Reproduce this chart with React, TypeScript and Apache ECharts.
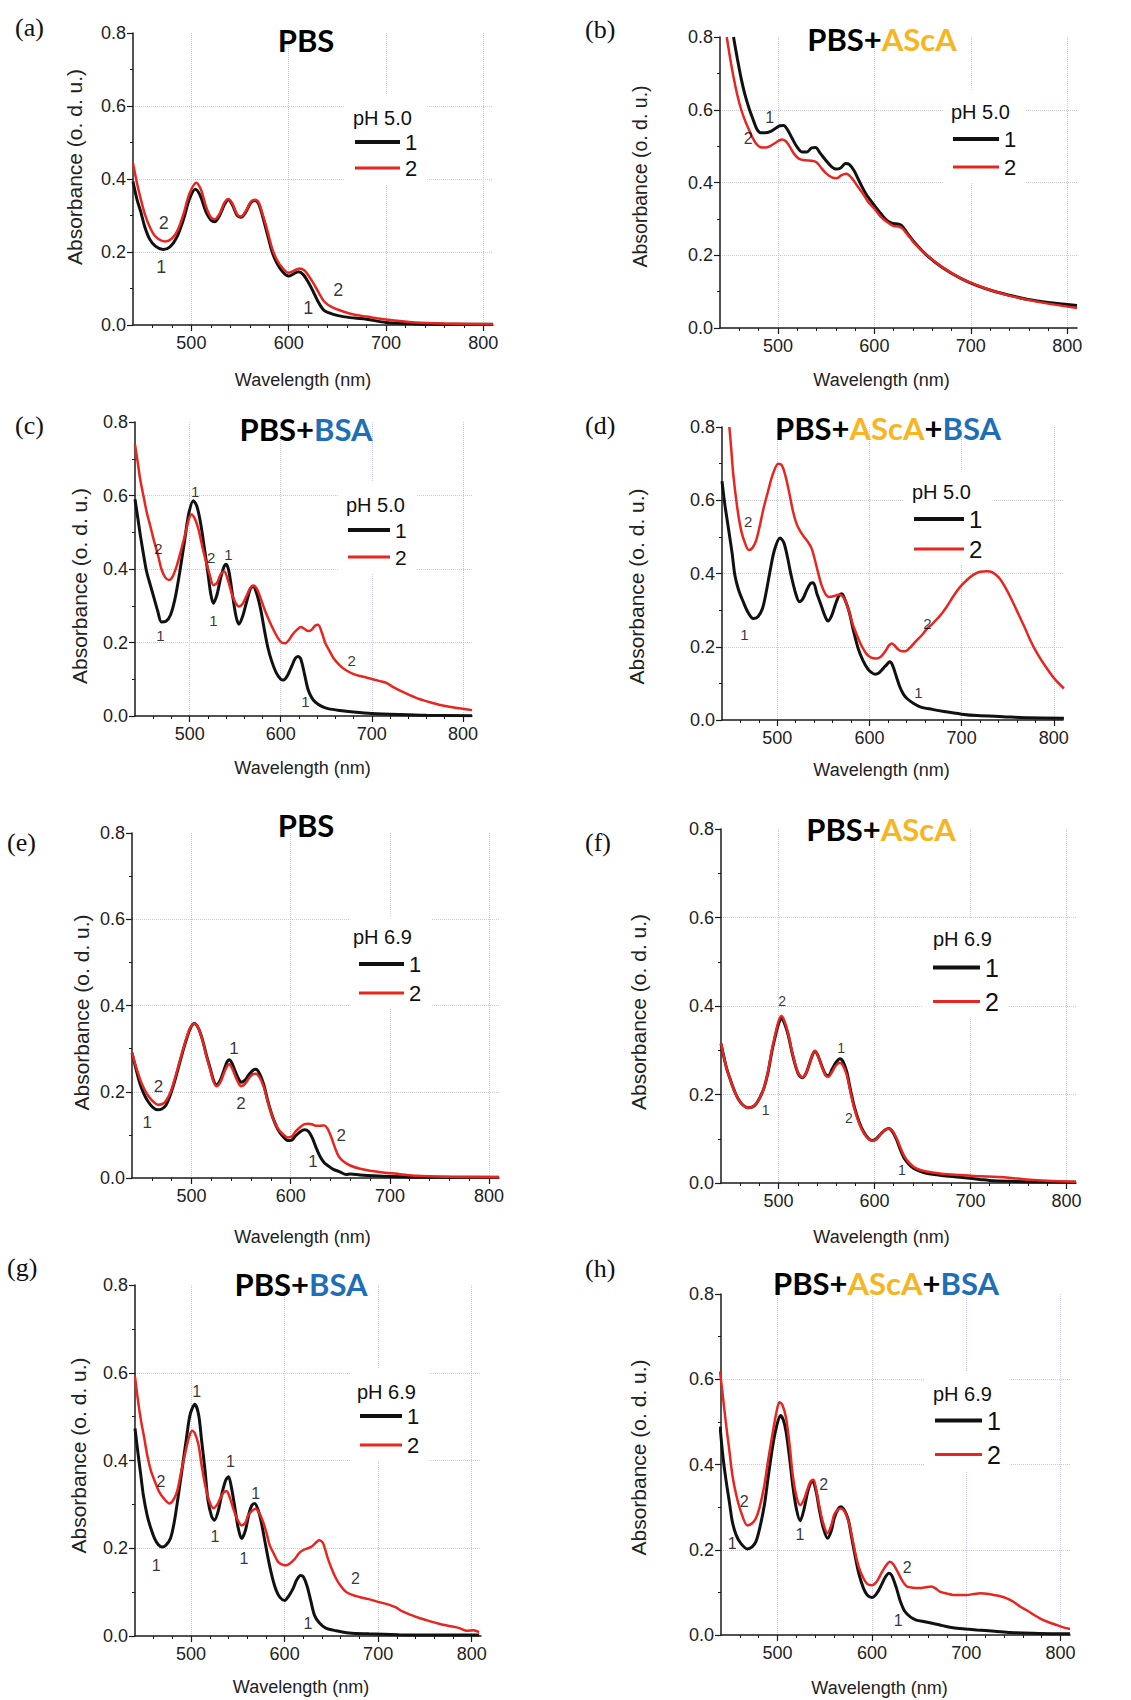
import { useEffect, useRef } from 'react';
import * as echarts from 'echarts';

// ---------- tick values ----------
const wavelengthTicks = [500, 600, 700, 800];
const seriesNames = ['1', '2'];
const panelLetters = ['(a)', '(b)', '(c)', '(d)', '(e)', '(f)', '(g)', '(h)'];
const phLabels = ['pH 5.0', 'pH 5.0', 'pH 5.0', 'pH 5.0', 'pH 6.9', 'pH 6.9', 'pH 6.9', 'pH 6.9'];
const titleParts = [
  [['PBS', 'k']],
  [['PBS+', 'k'], ['AScA', 'o']],
  [['PBS+', 'k'], ['BSA', 'b']],
  [['PBS+', 'k'], ['AScA', 'o'], ['+', 'k'], ['BSA', 'b']],
  [['PBS', 'k']],
  [['PBS+', 'k'], ['AScA', 'o']],
  [['PBS+', 'k'], ['BSA', 'b']],
  [['PBS+', 'k'], ['AScA', 'o'], ['+', 'k'], ['BSA', 'b']],
];

// ---------- spectra: [wavelength nm, absorbance] ----------
const a1 = [[440,0.393],[444,0.345],[448,0.31],[452,0.27],[457,0.236],[463,0.216],[471,0.207],[478,0.214],[485,0.24],[492,0.29],[498,0.345],[504,0.372],[509,0.355],[515,0.31],[520,0.288],[524,0.283],[529,0.3],[534,0.33],[538,0.343],[542,0.33],[547,0.3],[551,0.295],[556,0.31],[561,0.335],[565,0.341],[569,0.333],[573,0.3],[578,0.25],[583,0.2],[588,0.169],[594,0.145],[600,0.134],[605,0.14],[610,0.146],[615,0.138],[620,0.118],[625,0.093],[630,0.065],[636,0.041],[645,0.03],[656,0.023],[668,0.019],[680,0.016],[700,0.007],[730,0.003],[760,0.002],[810,0.002]];
const a2 = [[440,0.443],[444,0.39],[448,0.345],[452,0.305],[457,0.27],[463,0.243],[473,0.229],[480,0.237],[486,0.26],[492,0.305],[498,0.36],[505,0.39],[510,0.37],[515,0.325],[520,0.295],[524,0.29],[529,0.305],[534,0.335],[538,0.345],[542,0.333],[547,0.303],[551,0.297],[556,0.312],[561,0.337],[565,0.343],[569,0.336],[573,0.305],[578,0.26],[583,0.21],[588,0.178],[594,0.155],[600,0.143],[605,0.148],[611,0.155],[616,0.15],[621,0.133],[626,0.112],[631,0.088],[637,0.063],[645,0.048],[656,0.037],[668,0.028],[680,0.023],[700,0.015],[730,0.007],[760,0.004],[810,0.002]];
const b1 = [[454,0.8],[458,0.74],[462,0.685],[466,0.64],[470,0.605],[474,0.575],[478,0.548],[482,0.537],[487,0.537],[492,0.54],[497,0.548],[502,0.556],[506,0.557],[510,0.545],[515,0.52],[520,0.497],[525,0.484],[530,0.484],[535,0.495],[539,0.496],[544,0.48],[550,0.46],[555,0.445],[560,0.437],[565,0.44],[570,0.452],[574,0.45],[579,0.432],[585,0.4],[591,0.37],[598,0.344],[605,0.32],[612,0.298],[618,0.288],[624,0.286],[628,0.282],[633,0.265],[641,0.237],[655,0.198],[670,0.167],[689,0.137],[705,0.118],[724,0.101],[740,0.09],[758,0.079],[780,0.07],[810,0.062]];
const b2 = [[447,0.8],[450,0.75],[454,0.69],[458,0.64],[462,0.6],[466,0.57],[470,0.545],[474,0.522],[478,0.505],[482,0.497],[487,0.496],[492,0.5],[498,0.51],[504,0.518],[508,0.514],[512,0.5],[517,0.478],[522,0.465],[528,0.461],[535,0.46],[540,0.456],[545,0.44],[550,0.425],[556,0.414],[561,0.412],[566,0.42],[571,0.424],[576,0.414],[582,0.392],[588,0.37],[594,0.345],[600,0.328],[607,0.305],[614,0.29],[620,0.28],[625,0.279],[629,0.274],[634,0.258],[641,0.235],[655,0.199],[670,0.168],[689,0.137],[705,0.119],[724,0.101],[740,0.089],[758,0.078],[780,0.067],[810,0.055]];
const c1 = [[440,0.59],[443,0.54],[446,0.49],[450,0.43],[453,0.39],[457,0.355],[461,0.32],[465,0.285],[469,0.256],[474,0.258],[479,0.275],[484,0.32],[489,0.39],[494,0.47],[499,0.55],[504,0.586],[508,0.57],[512,0.525],[516,0.46],[520,0.39],[523,0.335],[526,0.307],[530,0.33],[534,0.375],[538,0.408],[540,0.413],[543,0.395],[547,0.33],[551,0.27],[554,0.25],[558,0.27],[563,0.315],[567,0.348],[570,0.352],[574,0.33],[578,0.29],[582,0.235],[586,0.185],[590,0.15],[595,0.118],[600,0.1],[603,0.098],[607,0.108],[612,0.135],[616,0.157],[619,0.162],[622,0.155],[626,0.115],[630,0.072],[634,0.05],[638,0.038],[645,0.026],[652,0.02],[665,0.015],[680,0.011],[700,0.007],[730,0.004],[760,0.002],[810,0.001]];
const c2 = [[440,0.738],[443,0.69],[446,0.64],[450,0.59],[453,0.553],[457,0.515],[461,0.475],[465,0.44],[469,0.4],[473,0.378],[477,0.37],[481,0.378],[486,0.41],[491,0.455],[495,0.493],[499,0.535],[502,0.548],[506,0.535],[510,0.505],[514,0.46],[518,0.42],[522,0.385],[526,0.356],[530,0.362],[534,0.385],[538,0.393],[542,0.37],[546,0.335],[550,0.31],[554,0.298],[558,0.305],[563,0.33],[567,0.35],[570,0.355],[574,0.345],[578,0.32],[583,0.285],[588,0.256],[593,0.23],[597,0.212],[601,0.2],[605,0.198],[609,0.207],[613,0.222],[618,0.235],[622,0.242],[626,0.237],[630,0.231],[634,0.235],[638,0.246],[641,0.248],[645,0.228],[649,0.198],[654,0.175],[658,0.157],[664,0.14],[670,0.127],[680,0.114],[695,0.104],[709,0.095],[716,0.09],[724,0.078],[737,0.062],[750,0.048],[763,0.038],[775,0.03],[790,0.023],[810,0.016]];
const d1 = [[440,0.652],[443,0.59],[447,0.523],[451,0.455],[454,0.395],[458,0.355],[463,0.323],[468,0.295],[474,0.277],[479,0.282],[484,0.305],[488,0.35],[492,0.405],[497,0.465],[503,0.497],[507,0.485],[511,0.445],[515,0.395],[520,0.345],[524,0.323],[528,0.332],[532,0.355],[536,0.373],[539,0.375],[543,0.345],[548,0.31],[552,0.282],[555,0.27],[559,0.285],[563,0.315],[567,0.34],[570,0.345],[574,0.325],[578,0.295],[583,0.24],[588,0.193],[593,0.162],[598,0.14],[602,0.13],[606,0.125],[610,0.128],[615,0.141],[619,0.152],[622,0.159],[625,0.15],[629,0.12],[633,0.09],[637,0.07],[641,0.058],[648,0.045],[655,0.036],[668,0.029],[681,0.023],[700,0.016],[717,0.012],[745,0.009],[772,0.006],[811,0.005]];
const d2 = [[448,0.8],[450,0.74],[452,0.677],[455,0.61],[458,0.555],[461,0.515],[464,0.49],[469,0.464],[473,0.47],[477,0.49],[481,0.53],[485,0.577],[490,0.625],[495,0.67],[501,0.7],[505,0.695],[509,0.665],[513,0.62],[517,0.57],[521,0.535],[525,0.515],[529,0.5],[533,0.487],[537,0.47],[540,0.445],[544,0.405],[548,0.368],[552,0.345],[556,0.336],[561,0.338],[566,0.342],[570,0.34],[574,0.325],[578,0.295],[582,0.26],[587,0.228],[592,0.2],[597,0.18],[602,0.17],[607,0.168],[612,0.172],[617,0.187],[621,0.203],[624,0.209],[627,0.204],[631,0.193],[635,0.188],[639,0.188],[645,0.2],[651,0.217],[657,0.232],[662,0.248],[668,0.262],[677,0.286],[684,0.31],[691,0.338],[698,0.362],[706,0.383],[713,0.397],[720,0.405],[727,0.406],[733,0.404],[740,0.39],[746,0.368],[753,0.335],[760,0.298],[768,0.255],[775,0.215],[782,0.182],[790,0.15],[800,0.115],[811,0.086]];
const e1 = [[440,0.29],[444,0.253],[448,0.219],[452,0.195],[456,0.178],[461,0.164],[466,0.158],[470,0.16],[474,0.168],[479,0.195],[484,0.232],[489,0.275],[494,0.315],[499,0.348],[503,0.358],[507,0.347],[511,0.321],[515,0.285],[519,0.253],[522,0.228],[525,0.216],[529,0.227],[533,0.252],[536,0.27],[538,0.274],[541,0.265],[544,0.248],[547,0.232],[550,0.222],[554,0.227],[558,0.24],[562,0.25],[565,0.252],[569,0.24],[573,0.215],[577,0.178],[582,0.14],[587,0.113],[592,0.097],[597,0.087],[601,0.088],[605,0.098],[610,0.108],[614,0.112],[618,0.108],[622,0.092],[626,0.068],[630,0.048],[634,0.035],[638,0.028],[643,0.02],[649,0.015],[656,0.008],[660,0.009],[670,0.007],[693,0.004],[727,0.002],[810,0.0015]];
const e2 = [[440,0.29],[444,0.258],[448,0.23],[452,0.208],[456,0.192],[461,0.178],[466,0.17],[470,0.171],[474,0.178],[479,0.2],[484,0.237],[489,0.278],[494,0.318],[499,0.35],[503,0.358],[507,0.347],[511,0.32],[515,0.283],[519,0.25],[522,0.225],[525,0.213],[529,0.222],[533,0.245],[536,0.26],[538,0.264],[541,0.254],[544,0.237],[547,0.222],[550,0.213],[554,0.218],[558,0.232],[562,0.241],[565,0.242],[569,0.232],[573,0.21],[577,0.176],[582,0.14],[587,0.115],[592,0.102],[597,0.094],[601,0.096],[605,0.108],[610,0.119],[614,0.125],[618,0.126],[622,0.124],[626,0.121],[630,0.121],[634,0.122],[637,0.115],[641,0.094],[645,0.068],[649,0.048],[654,0.037],[660,0.029],[669,0.022],[680,0.017],[693,0.013],[710,0.009],[727,0.005],[760,0.003],[810,0.0015]];
const f1 = [[440,0.315],[443,0.285],[446,0.258],[450,0.232],[454,0.208],[458,0.19],[462,0.178],[468,0.17],[473,0.172],[477,0.18],[481,0.195],[485,0.216],[489,0.25],[493,0.297],[497,0.335],[500,0.36],[503,0.372],[506,0.362],[510,0.335],[514,0.295],[518,0.262],[521,0.245],[525,0.238],[529,0.25],[533,0.275],[536,0.293],[538,0.298],[541,0.288],[545,0.265],[549,0.245],[552,0.243],[556,0.258],[560,0.273],[564,0.281],[567,0.275],[571,0.252],[575,0.21],[579,0.172],[584,0.138],[589,0.114],[594,0.1],[598,0.096],[602,0.1],[607,0.112],[611,0.12],[615,0.123],[619,0.115],[623,0.098],[627,0.075],[631,0.056],[636,0.042],[641,0.033],[647,0.027],[654,0.022],[670,0.017],[689,0.013],[710,0.008],[724,0.005],[758,0.003],[810,0.0015]];
const f2 = [[440,0.315],[443,0.285],[446,0.258],[450,0.232],[454,0.208],[458,0.19],[462,0.178],[468,0.17],[473,0.172],[477,0.18],[481,0.195],[485,0.216],[489,0.252],[493,0.3],[497,0.34],[500,0.366],[503,0.378],[506,0.367],[510,0.338],[514,0.297],[518,0.263],[521,0.246],[525,0.239],[529,0.25],[533,0.275],[536,0.294],[538,0.299],[541,0.288],[545,0.264],[549,0.243],[552,0.24],[556,0.252],[560,0.266],[564,0.272],[567,0.266],[571,0.245],[575,0.205],[579,0.168],[584,0.135],[589,0.112],[594,0.099],[598,0.095],[602,0.099],[607,0.112],[611,0.12],[615,0.123],[619,0.117],[623,0.101],[627,0.08],[631,0.061],[636,0.046],[641,0.036],[647,0.03],[654,0.026],[670,0.021],[689,0.018],[710,0.015],[724,0.014],[745,0.011],[758,0.008],[780,0.005],[810,0.003]];
const g1 = [[440,0.473],[443,0.42],[446,0.37],[449,0.32],[453,0.275],[457,0.245],[461,0.222],[465,0.208],[469,0.203],[473,0.207],[478,0.223],[482,0.26],[486,0.315],[490,0.375],[495,0.45],[499,0.505],[504,0.528],[508,0.505],[511,0.45],[515,0.375],[518,0.31],[522,0.272],[525,0.264],[529,0.285],[533,0.325],[537,0.355],[540,0.363],[543,0.34],[547,0.29],[550,0.25],[554,0.222],[558,0.24],[562,0.28],[565,0.298],[568,0.302],[572,0.285],[575,0.26],[579,0.215],[583,0.17],[587,0.132],[591,0.104],[595,0.088],[600,0.081],[604,0.09],[609,0.108],[613,0.128],[617,0.138],[620,0.135],[624,0.114],[628,0.08],[632,0.047],[637,0.03],[644,0.018],[655,0.012],[669,0.007],[690,0.005],[722,0.003],[760,0.002],[808,0.002]];
const g2 = [[440,0.591],[443,0.54],[446,0.496],[450,0.45],[453,0.413],[457,0.377],[462,0.348],[466,0.328],[471,0.313],[477,0.302],[481,0.31],[485,0.329],[489,0.37],[494,0.42],[498,0.455],[501,0.468],[504,0.462],[508,0.435],[511,0.392],[515,0.344],[519,0.31],[524,0.291],[528,0.3],[531,0.313],[535,0.328],[538,0.33],[541,0.318],[545,0.291],[549,0.268],[554,0.252],[558,0.258],[561,0.275],[565,0.285],[569,0.29],[573,0.28],[577,0.26],[581,0.232],[584,0.207],[589,0.185],[593,0.169],[598,0.162],[602,0.161],[606,0.166],[611,0.176],[615,0.188],[620,0.196],[625,0.2],[629,0.204],[633,0.212],[637,0.218],[641,0.212],[646,0.178],[650,0.155],[655,0.131],[660,0.114],[666,0.1],[673,0.093],[680,0.089],[690,0.084],[698,0.079],[712,0.071],[719,0.065],[726,0.056],[735,0.048],[744,0.041],[755,0.034],[765,0.028],[776,0.023],[787,0.018],[795,0.012],[802,0.013],[808,0.009]];
const h1 = [[439,0.489],[442,0.42],[445,0.368],[449,0.31],[452,0.266],[456,0.235],[461,0.215],[468,0.202],[473,0.207],[477,0.219],[481,0.25],[486,0.305],[490,0.37],[495,0.446],[499,0.49],[503,0.515],[506,0.505],[509,0.477],[513,0.41],[516,0.352],[520,0.295],[524,0.268],[528,0.295],[532,0.337],[535,0.357],[537,0.362],[541,0.335],[544,0.297],[548,0.255],[553,0.227],[557,0.245],[560,0.274],[564,0.295],[567,0.301],[571,0.292],[575,0.27],[578,0.235],[582,0.188],[586,0.145],[591,0.11],[595,0.094],[600,0.088],[605,0.097],[610,0.117],[614,0.135],[618,0.145],[621,0.14],[626,0.11],[630,0.08],[635,0.055],[641,0.042],[647,0.035],[656,0.031],[665,0.027],[675,0.022],[686,0.017],[700,0.014],[711,0.012],[730,0.009],[747,0.006],[770,0.004],[790,0.003],[810,0.003]];
const h2 = [[439,0.618],[442,0.56],[445,0.501],[449,0.43],[452,0.376],[456,0.33],[461,0.29],[468,0.257],[473,0.262],[477,0.274],[481,0.3],[486,0.352],[490,0.41],[495,0.477],[499,0.525],[502,0.546],[505,0.54],[509,0.509],[513,0.44],[516,0.376],[520,0.325],[524,0.305],[528,0.318],[532,0.344],[535,0.36],[538,0.364],[541,0.34],[544,0.305],[548,0.265],[553,0.239],[557,0.258],[560,0.282],[564,0.294],[567,0.297],[571,0.29],[575,0.268],[578,0.24],[582,0.196],[586,0.16],[591,0.133],[595,0.12],[600,0.117],[605,0.125],[610,0.145],[615,0.163],[619,0.172],[623,0.165],[628,0.145],[632,0.128],[637,0.114],[643,0.111],[651,0.11],[657,0.112],[663,0.114],[667,0.11],[672,0.102],[680,0.097],[686,0.094],[700,0.094],[708,0.096],[715,0.098],[722,0.097],[729,0.094],[736,0.091],[743,0.086],[750,0.078],[757,0.067],[765,0.057],[772,0.047],[779,0.038],[786,0.031],[795,0.024],[803,0.018],[810,0.014]];

// ---------- curve labels: [wavelength, absorbance, text] ----------
const aNotes = [[471.6,0.279,'2'],[469,0.16,'1'],[651,0.096,'2'],[620,0.046,'1']];
const bNotes = [[491.4,0.58,'1'],[469.3,0.522,'2']];
const cNotes = [[506,0.611,'1'],[465.7,0.456,'2'],[523.7,0.43,'2'],[542.7,0.439,'1'],[526,0.259,'1'],[467.8,0.22,'1'],[678,0.152,'2'],[627,0.039,'1']];
const dNotes = [[468.3,0.543,'2'],[464.3,0.234,'1'],[663,0.264,'2'],[653,0.075,'1']];
const eNotes = [[466.7,0.213,'2'],[455.3,0.129,'1'],[542.7,0.301,'1'],[550,0.172,'2'],[651,0.099,'2'],[622.4,0.039,'1']];
const fNotes = [[503.8,0.412,'2'],[486.4,0.165,'1'],[565.3,0.304,'1'],[573.3,0.146,'2'],[628.6,0.029,'1']];
const gNotes = [[506,0.557,'1'],[467.7,0.353,'2'],[542.2,0.398,'1'],[569.2,0.325,'1'],[525.6,0.226,'1'],[556.4,0.176,'1'],[462.7,0.161,'1'],[675.7,0.131,'2'],[625,0.028,'1']];
const hNotes = [[464.5,0.313,'2'],[452,0.215,'1'],[549,0.354,'2'],[523.8,0.236,'1'],[637.4,0.158,'2'],[627.8,0.035,'1']];

const blackCurves = [a1, b1, c1, d1, e1, f1, g1, h1];
const redCurves = [a2, b2, c2, d2, e2, f2, g2, h2];
const curveNotes = [aNotes, bNotes, cNotes, dNotes, eNotes, fNotes, gNotes, hNotes];

// ---------- layout (pixels) ----------
const layouts = [
  { grid: [133, 33, 360, 292], yGap: 48, yShift: -12, ySize: 21, xGap: 46, xShift: -10, leg: [353, 142, 26, 45, 22], ph: [353, 118], title: [306, 40], letter: [15, 27], note: 18 },
  { grid: [720, 37, 357, 291], yGap: 70, yShift: -6, ySize: 19.5, xGap: 43, xShift: -17, leg: [951, 139, 28, 46, 22], ph: [951, 112], title: [882, 39], letter: [585, 29], note: 16 },
  { grid: [135, 422, 337, 294], yGap: 45, yShift: 17, ySize: 21, xGap: 43, xShift: -1, leg: [346, 530, 27, 42, 21], ph: [346, 505], title: [306, 429], letter: [15, 425], note: 15 },
  { grid: [722, 427, 341, 293], yGap: 75, yShift: 13, ySize: 21, xGap: 41, xShift: -11, leg: [912, 519, 30, 50, 24], ph: [912, 492], title: [888, 428], letter: [585, 425], note: 15 },
  { grid: [132, 833, 367, 345], yGap: 40, yShift: 7, ySize: 21, xGap: 50, xShift: -13, leg: [357, 964, 29, 45, 22], ph: [353, 937], title: [306, 825], letter: [7, 842], note: 17 },
  { grid: [721, 829, 355, 354], yGap: 72, yShift: 6, ySize: 21, xGap: 45, xShift: -17, leg: [931, 967, 33, 47, 25], ph: [933, 939], title: [881, 829], letter: [585, 842], note: 14 },
  { grid: [135, 1285, 346, 351], yGap: 46, yShift: -5, ySize: 21, xGap: 42, xShift: -7, leg: [358, 1416, 29, 42, 22], ph: [357, 1392], title: [301, 1284], letter: [7, 1267], note: 16 },
  { grid: [721, 1294, 349, 341], yGap: 72, yShift: -7, ySize: 21, xGap: 44, xShift: -16, leg: [933, 1420, 33, 47, 25], ph: [933, 1394], title: [886, 1283], letter: [585, 1268], note: 16 },
];

const SANS = 'Liberation Sans, Arial, sans-serif';
const AXIS_COLOR = '#1a1a1a';
const GRID_COLOR = '#c6c9e8';
const BLACK = '#111111';
const RED = '#e8251f';
const ORANGE = '#f7b521';
const BLUE = '#1f6fb6';

function buildOption() {
  const grid = layouts.map((l) => ({
    left: l.grid[0], top: l.grid[1], width: l.grid[2], height: l.grid[3],
    containLabel: false, outerBoundsMode: 'none',
  }));

  const xAxis = layouts.map((l, i) => ({
    type: 'value', gridIndex: i, min: 440, max: 810, splitNumber: 4, minInterval: 100, maxInterval: 100,
    name: 'Wavelength (nm)', nameLocation: 'middle', nameGap: l.xGap,
    nameTextStyle: {
      fontFamily: SANS, fontSize: 18, color: '#222',
      padding: l.xShift >= 0 ? [0, 0, 0, 2 * l.xShift] : [0, -2 * l.xShift, 0, 0],
    },
    axisLine: { show: true, onZero: false, lineStyle: { color: AXIS_COLOR, width: 1.5 } },
    axisTick: { show: true, inside: false, length: 6, customValues: wavelengthTicks, lineStyle: { color: AXIS_COLOR, width: 1.2 } },
    minorTick: { show: true, splitNumber: 5, length: 3, lineStyle: { color: AXIS_COLOR, width: 1 } },
    axisLabel: { customValues: wavelengthTicks, margin: 9, fontSize: 18, color: '#222', fontFamily: SANS },
    splitLine: { show: true, showMinLine: true, showMaxLine: true, lineStyle: { color: GRID_COLOR, type: 'dotted', width: 1 } },
  }));

  const yAxis = layouts.map((l, i) => ({
    type: 'value', gridIndex: i, min: 0, max: 0.8, interval: 0.2,
    name: 'Absorbance (o. d. u.)', nameLocation: 'middle', nameGap: l.yGap,
    nameTextStyle: {
      fontFamily: SANS, fontSize: l.ySize, color: '#222',
      padding: l.yShift <= 0 ? [0, 0, 0, -2 * l.yShift] : [0, 2 * l.yShift, 0, 0],
    },
    axisLine: { show: true, onZero: false, lineStyle: { color: AXIS_COLOR, width: 1.5 } },
    axisTick: { show: true, inside: false, length: 6, lineStyle: { color: AXIS_COLOR, width: 1.2 } },
    minorTick: { show: true, splitNumber: 2, length: 3, lineStyle: { color: AXIS_COLOR, width: 1 } },
    axisLabel: { formatter: (v: number) => v.toFixed(1), margin: 7, fontSize: 18, color: '#222', fontFamily: SANS },
    splitLine: { show: true, showMinLine: false, showMaxLine: false, lineStyle: { color: GRID_COLOR, type: 'dotted', width: 1 } },
  }));

  const series: any[] = [];
  layouts.forEach((l, i) => {
    series.push({
      type: 'line', name: seriesNames[0], xAxisIndex: i, yAxisIndex: i, data: blackCurves[i],
      symbol: 'none', showSymbol: false, smooth: 0.3, silent: true,
      lineStyle: { color: BLACK, width: 3 }, itemStyle: { color: BLACK }, z: 3,
    });
    series.push({
      type: 'line', name: seriesNames[1], xAxisIndex: i, yAxisIndex: i, data: redCurves[i],
      symbol: 'none', showSymbol: false, smooth: 0.3, silent: true,
      lineStyle: { color: RED, width: 2.5 }, itemStyle: { color: RED }, z: 3,
    });
    series.push({
      type: 'scatter', name: 'notes' + i, xAxisIndex: i, yAxisIndex: i, data: curveNotes[i],
      symbol: 'circle', symbolSize: 1, itemStyle: { color: 'rgba(0,0,0,0)' }, silent: true, z: 5,
      label: {
        show: true, position: 'inside', formatter: (p: any) => String(p.value[2]),
        fontSize: l.note, color: '#000', fontFamily: SANS, textBorderWidth: 0, textBorderColor: 'transparent',
      },
    });
  });

  const legend = layouts.map((l) => {
    const [lx, y1, spacing, w, fs] = l.leg;
    const padTop = 36;
    return {
      orient: 'vertical', left: lx - 8, top: y1 - 12 - padTop,
      itemWidth: w, itemHeight: 4, itemGap: spacing - 24,
      padding: [padTop, 10, 4, 8], backgroundColor: '#ffffff',
      data: [
        { name: seriesNames[0], lineStyle: { color: BLACK, width: 4 } },
        { name: seriesNames[1], lineStyle: { color: RED, width: 3 } },
      ],
      selectedMode: false,
      itemStyle: { opacity: 0 },
      textStyle: { fontSize: fs, lineHeight: 24, fontFamily: SANS, color: BLACK },
    };
  });

  const graphic: any[] = [];
  layouts.forEach((l, i) => {
    const parts = titleParts[i];
    const text = parts.map(([t, k]) => `{${k}|${t}}`).join('');
    const richBase = { fontSize: 31, fontWeight: 'bold', fontFamily: 'Lato, Open Sans, sans-serif' };
    graphic.push({
      type: 'text', x: l.title[0], y: l.title[1], z: 20, silent: true,
      style: {
        text, align: 'center', verticalAlign: 'middle', textAlign: 'center', textVerticalAlign: 'middle',
        rich: {
          k: { ...richBase, fill: '#000', color: '#000' },
          o: { ...richBase, fill: ORANGE, color: ORANGE },
          b: { ...richBase, fill: BLUE, color: BLUE },
        },
      },
    });
    graphic.push({
      type: 'text', x: l.letter[0], y: l.letter[1], z: 20, silent: true,
      style: {
        text: panelLetters[i], fill: '#111', fontSize: 26, fontFamily: 'Liberation Serif, Times New Roman, serif',
        align: 'left', verticalAlign: 'middle', textAlign: 'left', textVerticalAlign: 'middle',
      },
    });
    graphic.push({
      type: 'text', x: l.ph[0], y: l.ph[1], z: 20, silent: true,
      style: {
        text: phLabels[i], fill: '#111', fontSize: 20, fontFamily: SANS,
        align: 'left', verticalAlign: 'middle', textAlign: 'left', textVerticalAlign: 'middle',
      },
    });
  });

  return { animation: false, backgroundColor: '#ffffff', grid, xAxis, yAxis, series, legend, graphic };
}

export default function App() {
  const ref = useRef<HTMLDivElement>(null);
  useEffect(() => {
    document.body.style.margin = '0';
    if (!ref.current) return;
    const chart = echarts.init(ref.current, undefined, { renderer: 'svg' });
    chart.setOption(buildOption() as any);
    return () => chart.dispose();
  }, []);
  return <div ref={ref} style={{ width: 1131, height: 1700, background: '#fff' }} />;
}
